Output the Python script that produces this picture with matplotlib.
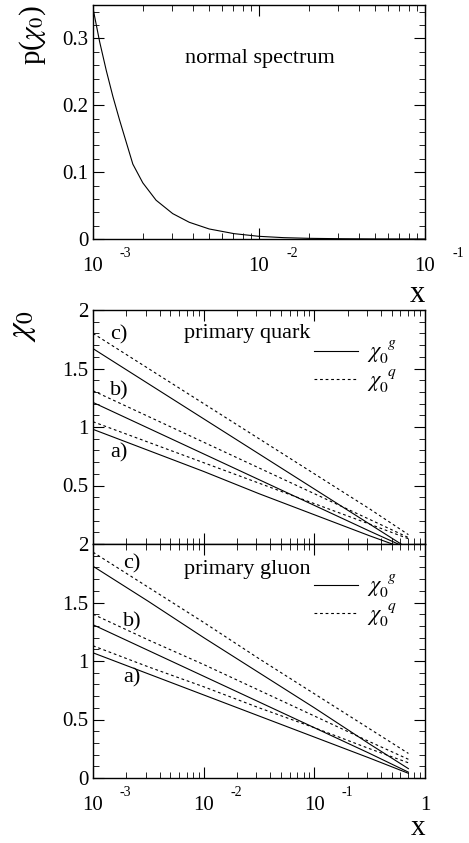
import numpy as np
from matplotlib import pyplot as plt
from matplotlib import transforms
from matplotlib.lines import Line2D
from matplotlib.ticker import MultipleLocator, LogLocator, FixedFormatter, FixedLocator, NullFormatter

plt.rcParams['font.family'] = ['Liberation Serif', 'DejaVu Serif']
plt.rcParams['mathtext.fontset'] = 'stix'

# top panel: p(chi0) for the normal spectrum (x given as log10 values)
logx_top = [-3.0, -2.96, -2.92, -2.88, -2.84, -2.80, -2.76, -2.70, -2.62, -2.52,
            -2.42, -2.30, -2.15, -2.0, -1.85, -1.7, -1.5, -1.3, -1.0]
p_top = [0.345, 0.295, 0.252, 0.213, 0.178, 0.145, 0.112, 0.084, 0.058, 0.038,
         0.025, 0.015, 0.008, 0.004, 0.002, 0.001, 0.0004, 0.0001, 0.0]

# chi0 curves, sampled at these x values
x_chi = [1e-3, 10**-2.5, 1e-2, 10**-1.5, 1e-1, 10**-0.5, 10**-0.15]

quark_a_g = [0.98, 0.80, 0.62, 0.43, 0.25, 0.07, -0.05]
quark_a_q = [1.045, 0.87, 0.695, 0.52, 0.345, 0.17, 0.045]
quark_b_g = [1.21, 0.99, 0.77, 0.55, 0.33, 0.11, -0.04]
quark_b_q = [1.31, 1.09, 0.87, 0.65, 0.43, 0.21, 0.055]
quark_c_g = [1.67, 1.37, 1.07, 0.77, 0.47, 0.17, -0.04]
quark_c_q = [1.80, 1.50, 1.20, 0.90, 0.60, 0.30, 0.08]

gluon_a_g = [1.07, 0.89, 0.71, 0.53, 0.35, 0.17, 0.04]
gluon_a_q = [1.13, 0.95, 0.78, 0.60, 0.43, 0.25, 0.13]
gluon_b_g = [1.31, 1.09, 0.87, 0.65, 0.43, 0.21, 0.05]
gluon_b_q = [1.40, 1.18, 0.97, 0.75, 0.53, 0.31, 0.16]
gluon_c_g = [1.81, 1.51, 1.20, 0.90, 0.60, 0.29, 0.08]
gluon_c_q = [1.93, 1.63, 1.33, 1.02, 0.72, 0.42, 0.21]

W, H = 469, 843
tick_fs = 15
text_fs = 16
lw = 0.8
dash = (0, (2.5, 2.5))


def style_axes(ax):
    for s in ax.spines.values():
        s.set_linewidth(1.0)
    ax.set_xscale('log')
    ax.xaxis.set_minor_locator(LogLocator(base=10, subs=np.arange(2, 10)))
    ax.xaxis.set_minor_formatter(NullFormatter())
    ax.tick_params(which='both', direction='in', top=True, right=True, labelsize=tick_fs)
    ax.tick_params(which='major', length=8, width=0.8)
    ax.tick_params(which='minor', length=4, width=0.6)


def add_exponents(fig, ax, ticks, exps):
    trans = transforms.offset_copy(ax.get_xaxis_transform(), fig=fig, x=27, y=-8, units='dots')
    for t, e in zip(ticks, exps):
        ax.text(t, 0, e, transform=trans, ha='left', va='top', fontsize=10)


def chi_panel(ax, label, curves, lab_x, lab_y, label_y, leg_y):
    style_axes(ax)
    for g, q in curves:
        ax.plot(x_chi, g, color='k', lw=lw)
        ax.plot(x_chi, q, color='k', lw=lw, ls=dash)
    ax.set_xlim(1e-3, 1)
    ax.set_ylim(0, 2)
    ax.yaxis.set_major_locator(FixedLocator([0, 0.5, 1, 1.5, 2]))
    ax.yaxis.set_major_formatter(FixedFormatter(['0', '0.5', '1', '1.5', '2']))
    ax.yaxis.set_minor_locator(MultipleLocator(0.1))
    ax.text(0.274, label_y, label, transform=ax.transAxes, fontsize=text_fs, va='center')
    for name, yy in zip(['a)', 'b)', 'c)'], lab_y):
        ax.text(lab_x, yy, name, transform=ax.transAxes, fontsize=text_fs, va='center')
    handles = [Line2D([], [], color='k', lw=lw), Line2D([], [], color='k', lw=lw, ls=dash)]
    ax.legend(handles, [r'$\chi_0^{\;\;g}$', r'$\chi_0^{\;\;q}$'], loc='upper left',
              bbox_to_anchor=(0.665, leg_y), frameon=False, fontsize=16,
              borderpad=0, borderaxespad=0, handlelength=2.0, handletextpad=0.4,
              labelspacing=0.05)


fig = plt.figure(figsize=(W / 100, H / 100), dpi=100)
left = 93 / W
width = 332 / W
hgt = 234 / H

ax1 = fig.add_axes([left, 1 - 239 / H, width, hgt])
ax2 = fig.add_axes([left, 1 - 544 / H, width, hgt])
ax3 = fig.add_axes([left, 1 - 778 / H, width, hgt])

# top panel
style_axes(ax1)
ax1.plot(10 ** np.array(logx_top), p_top, color='k', lw=lw)
ax1.set_xlim(1e-3, 1e-1)
ax1.set_ylim(0, 0.35)
ax1.yaxis.set_major_locator(FixedLocator([0, 0.1, 0.2, 0.3]))
ax1.yaxis.set_major_formatter(FixedFormatter(['0', '0.1', '0.2', '0.3']))
ax1.yaxis.set_minor_locator(MultipleLocator(0.02))
ax1.xaxis.set_major_locator(FixedLocator([1e-3, 1e-2, 1e-1]))
ax1.xaxis.set_major_formatter(FixedFormatter(['10', '10', '10']))
ax1.tick_params(axis='x', which='major', pad=13)
add_exponents(fig, ax1, [1e-3, 1e-2, 1e-1], ['-3', '-2', '-1'])
ax1.text(0.277, 0.77, 'normal spectrum', transform=ax1.transAxes, fontsize=text_fs, va='center')
ax1.set_ylabel(r'p($\chi_0$)', fontsize=21, loc='top', labelpad=10)
ax1.set_xlabel('x', fontsize=22, loc='right', labelpad=3)

# middle panel: primary quark
chi_panel(ax2, 'primary quark',
          [(quark_a_g, quark_a_q), (quark_b_g, quark_b_q), (quark_c_g, quark_c_q)],
          0.051, [0.389, 0.654, 0.893], 0.90, 0.875)
ax2.yaxis.set_major_formatter(FixedFormatter(['', '0.5', '1', '1.5', '2']))
ax2.xaxis.set_major_locator(FixedLocator([1e-3, 1e-2, 1e-1, 1]))
ax2.xaxis.set_major_formatter(NullFormatter())
ax2.set_ylabel(r'$\chi_0$', fontsize=24, loc='top', labelpad=17)

# bottom panel: primary gluon
chi_panel(ax3, 'primary gluon',
          [(gluon_a_g, gluon_a_q), (gluon_b_g, gluon_b_q), (gluon_c_g, gluon_c_q)],
          0.09, [0.427, 0.667, 0.915], 0.89, 0.875)
ax3.xaxis.set_major_locator(FixedLocator([1e-3, 1e-2, 1e-1, 1]))
ax3.xaxis.set_major_formatter(FixedFormatter(['10', '10', '10', '1']))
ax3.tick_params(axis='x', which='major', pad=13)
add_exponents(fig, ax3, [1e-3, 1e-2, 1e-1], ['-3', '-2', '-1'])
ax3.set_xlabel('x', fontsize=21, loc='right', labelpad=0)

fig.savefig('out.png', dpi=100)
